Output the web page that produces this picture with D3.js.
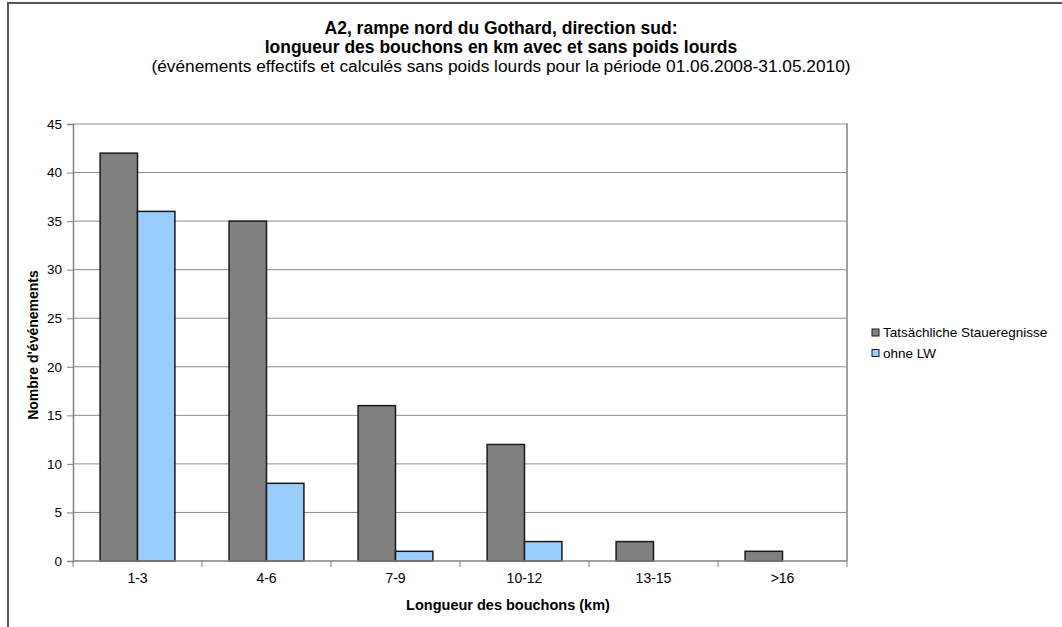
<!DOCTYPE html>
<html>
<head>
<meta charset="utf-8">
<script src="https://cdn.jsdelivr.net/npm/d3@7"></script>
<style>
  html, body { margin: 0; padding: 0; background: #fff; }
  svg { display: block; font-family: "Liberation Sans", Arial, sans-serif; }
</style>
</head>
<body>
<svg id="chart" width="1062" height="627"></svg>
<script>
// Traffic jam length classes (km)
const categories = ["1-3", "4-6", "7-9", "10-12", "13-15", ">16"];
// Number of events per class
const actualEvents = [42, 35, 16, 12, 2, 1];
const withoutTrucks = [36, 8, 1, 2, 0, 0];
const seriesNames = ["Tatsächliche Staueregnisse", "ohne LW"];
const yTicks = [0, 5, 10, 15, 20, 25, 30, 35, 40, 45];

const svg = d3.select("#chart");
const W = 1062, H = 627;
const plot = { left: 73, right: 847, top: 124, bottom: 561 };

// Outer frame (top and left edges)
svg.append("line").attr("x1", 7).attr("x2", W).attr("y1", 3).attr("y2", 3)
  .attr("stroke", "#555").attr("stroke-width", 2);
svg.append("line").attr("x1", 8).attr("x2", 8).attr("y1", 3).attr("y2", H)
  .attr("stroke", "#555").attr("stroke-width", 2);

// Titles
const titles = [
  { t: "A2, rampe nord du Gothard, direction sud:", y: 34, w: "bold", s: 17.5 },
  { t: "longueur des bouchons en km avec et sans poids lourds", y: 53, w: "bold", s: 17.5 },
  { t: "(événements effectifs et calculés sans poids lourds pour la période 01.06.2008-31.05.2010)", y: 72, w: "normal", s: 17.3 }
];
titles.forEach(d => {
  svg.append("text").attr("x", 501).attr("y", d.y).attr("text-anchor", "middle")
    .attr("font-size", d.s).attr("font-weight", d.w).attr("fill", "#000").text(d.t);
});

const x = d3.scaleBand().domain(categories).range([plot.left, plot.right]).paddingInner(0.42).paddingOuter(0.21);
const xSub = d3.scaleBand().domain([0, 1]).range([0, x.bandwidth()]);
const y = d3.scaleLinear().domain([0, 45]).range([plot.bottom, plot.top]);

// Gridlines
svg.append("g").selectAll("line").data(yTicks.filter(v => v > 0)).join("line")
  .attr("x1", plot.left).attr("x2", plot.right)
  .attr("y1", d => y(d)).attr("y2", d => y(d))
  .attr("stroke", "#8c8c8c").attr("stroke-width", 1);

// Plot area right border
svg.append("line").attr("x1", plot.right).attr("x2", plot.right)
  .attr("y1", plot.top - 1).attr("y2", plot.bottom)
  .attr("stroke", "#a0a0a0").attr("stroke-width", 2);

// Bars
const rows = categories.map((c, i) => ({ c, vals: [actualEvents[i], withoutTrucks[i]] }));
const colors = ["#808080", "#99ccff"];
const groups = svg.append("g").selectAll("g").data(rows).join("g")
  .attr("transform", d => `translate(${x(d.c)},0)`);
groups.selectAll("rect").data(d => d.vals.map((v, k) => ({ v, k })).filter(e => e.v > 0)).join("rect")
  .attr("x", d => xSub(d.k))
  .attr("width", xSub.bandwidth())
  .attr("y", d => y(d.v))
  .attr("height", d => y(0) - y(d.v))
  .attr("fill", d => colors[d.k])
  .attr("stroke", "#1a1a1a").attr("stroke-width", 1.5);

// Y axis
const yAxis = d3.axisLeft(y).tickValues(yTicks).tickSize(6).tickPadding(5);
const gy = svg.append("g").attr("transform", `translate(${plot.left},0)`).call(yAxis);
gy.select(".domain").attr("stroke", "#808080").attr("stroke-width", 1.5);
gy.selectAll(".tick line").attr("stroke", "#808080");
gy.selectAll(".tick text").attr("font-size", 13.5).attr("fill", "#000").attr("font-family", "Liberation Sans, Arial, sans-serif");

// X axis: ticks at category boundaries
const step = (plot.right - plot.left) / categories.length;
const gx = svg.append("g");
gx.append("line").attr("x1", plot.left).attr("x2", plot.right)
  .attr("y1", plot.bottom).attr("y2", plot.bottom)
  .attr("stroke", "#808080").attr("stroke-width", 1.5);
gx.selectAll("line.tk").data(d3.range(categories.length + 1)).join("line").attr("class", "tk")
  .attr("x1", i => plot.left + i * step).attr("x2", i => plot.left + i * step)
  .attr("y1", plot.bottom).attr("y2", plot.bottom + 6)
  .attr("stroke", "#808080");
gx.selectAll("text").data(categories).join("text")
  .attr("x", d => x(d) + x.bandwidth() / 2)
  .attr("y", plot.bottom + 22)
  .attr("text-anchor", "middle").attr("font-size", 14).attr("fill", "#000").text(d => d);

// Axis titles
svg.append("text").attr("x", 508).attr("y", 610).attr("text-anchor", "middle")
  .attr("font-size", 14.5).attr("font-weight", "bold").text("Longueur des bouchons (km)");
svg.append("text").attr("transform", "translate(38,345) rotate(-90)").attr("text-anchor", "middle")
  .attr("font-size", 14).attr("font-weight", "bold").text("Nombre d'événements");

// Legend
const legend = svg.append("g").attr("transform", "translate(872,329)");
seriesNames.forEach((n, i) => {
  const g = legend.append("g").attr("transform", `translate(0,${i * 20.5})`);
  g.append("rect").attr("x", 0).attr("y", 0).attr("width", 7).attr("height", 7)
    .attr("fill", colors[i]).attr("stroke", "#1a1a1a").attr("stroke-width", 1);
  g.append("text").attr("x", 11).attr("y", 8).attr("font-size", 13.5).attr("fill", "#000").text(n);
});
</script>
</body>
</html>
